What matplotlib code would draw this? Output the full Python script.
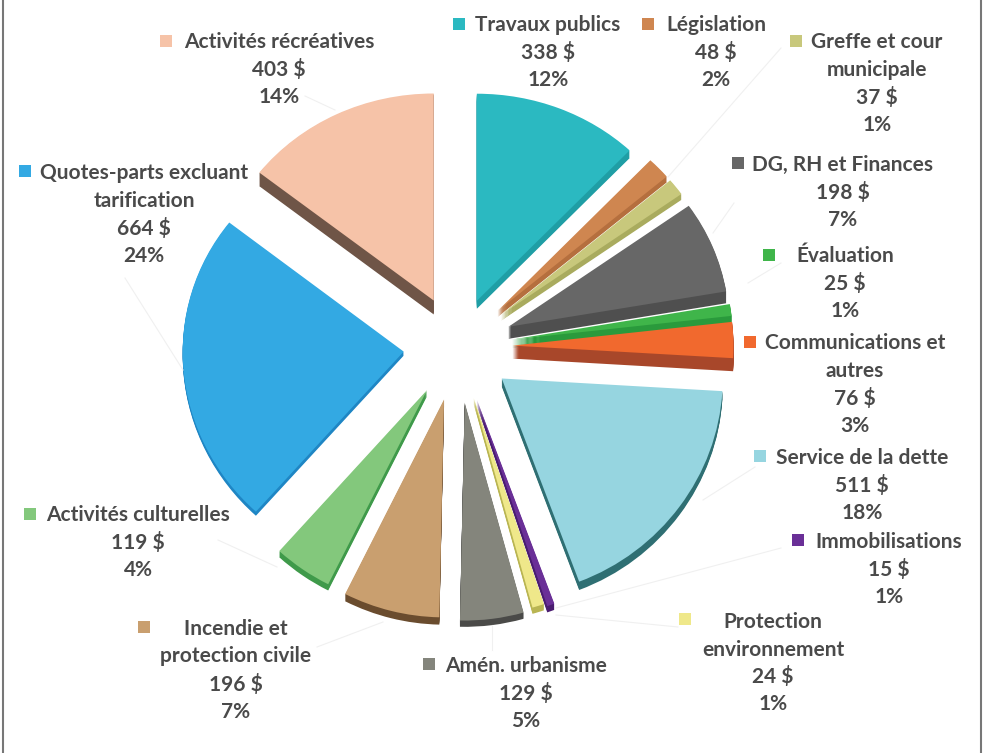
"""Repartition des depenses, pie with fake 3D depth"""
import matplotlib
matplotlib.use("Agg")
import matplotlib.pyplot as plt
import numpy as np

plt.rcParams['font.family'] = ['Lato', 'DejaVu Sans']

# DATA (clockwise from 12 o'clock)
names = ["Travaux publics", "Législation", "Greffe et cour\nmunicipale",
         "DG, RH et Finances", "Évaluation", "Communications et\nautres",
         "Service de la dette", "Immobilisations",
         "Protection\nenvironnement", "Amén. urbanisme",
         "Incendie et\nprotection civile", "Activités culturelles",
         "Quotes-parts excluant\ntarification", "Activités récréatives"]
values = [338, 48, 37, 198, 25, 76, 511, 15, 24, 129, 196, 119, 664, 403]
percents = [12, 2, 1, 7, 1, 3, 18, 1, 1, 5, 7, 4, 24, 14]

# STYLE
top_colors = ['#2bb9c1', '#cf8650', '#c8c87c', '#676767', '#3fb54a', '#f1692e',
              '#96d5e0', '#6a2f97', '#efe88a', '#84857c', '#c99f6f', '#83c87c',
              '#33a9e3', '#f6c3a8']
side_colors = ['#1f9ea5', '#b56f3e', '#a9ab5e', '#4f4f4f', '#2a9a3c', '#a8472a',
               '#2f6f73', '#4a1c70', '#b9b552', '#4a4a48', '#6a4c2e', '#3f9a4a',
               '#1f86c4', '#6f5547']
explode = [52, 55, 55, 55, 55, 55, 55, 58, 55, 58, 56, 54, 54, 54]
depth = [8, 6, 6, 12, 8, 13, 8, 6, 6, 6, 7, 6, 4, 14]

# LAYOUT in pixels: center x of the text, y of first line, legend square
label_x = [548, 716, 877, 843, 845, 855, 862, 889, 773, 526, 236, 138, 144, 279]
label_y = [25, 25, 42, 165, 256, 343, 458, 542, 622, 666, 629, 515, 173, 42]
square_x = [459, 648, 796, 738, 769, 750, 760, 798, 685, 429, 144, 30, 25, 166]
square_y = [24, 24, 41, 163, 255, 342, 456, 540, 619, 664, 627, 514, 171, 41]
leaders = [((305, 96), (335, 110)), ((125, 278), (183, 370)),
           ((781, 48), (668, 177)), ((734, 203), (713, 233)),
           ((781, 263), (748, 283)), ((755, 467), (703, 500)),
           ((781, 548), (556, 608)), ((678, 627), (556, 615)),
           ((492, 625), (492, 650)), ((383, 622), (317, 647)),
           ((218, 540), (277, 567))]

W, H = 985, 753
cx, cy = 457.5, 347.0
radius = 221
line_h = 27.5
# perspective of the tilted pie: the near (lower) half is stretched
tilt_b, tilt_a = 0.961, 7.56e-5


def tilt(y):
    return tilt_b * y - tilt_a * y * y


def untilt(u):
    disc = np.maximum(tilt_b ** 2 - 4 * tilt_a * np.asarray(u, dtype=float), 0)
    return (tilt_b - np.sqrt(disc)) / (2 * tilt_a)


fig = plt.figure(figsize=(W / 100, H / 100), dpi=100, facecolor='white')

over = fig.add_axes([0, 0, 1, 1], zorder=2)
over.set_xlim(0, W)
over.set_ylim(H, 0)
over.axis('off')
over.patch.set_alpha(0)

ax = fig.add_axes([0, 0, 1, 1], zorder=1)

pie_args = dict(startangle=90, counterclock=False, explode=explode,
                radius=radius, frame=True, wedgeprops=dict(linewidth=0))

# side walls: darker copies stepping down
for k in range(max(depth), 0, -1):
    wedges, _ = ax.pie(values, colors=side_colors, center=(0, -k / tilt_b),
                       **pie_args)
    for w, d in zip(wedges, depth):
        w.set_visible(k <= d)
ax.pie(values, colors=top_colors, center=(0, 0), **pie_args)

ax.set_aspect('auto')
ax.set_yscale('function', functions=(tilt, untilt))
ax.set_xlim(-cx, W - cx)
ax.set_ylim(float(untilt(cy - H)), float(untilt(cy)))
ax.axis('off')

for (a, b) in leaders:
    over.plot([a[0], b[0]], [a[1], b[1]], color='#f0f0f0', lw=0.8)

# labels
for i, name in enumerate(names):
    lines = name.split("\n") + ["%d $" % values[i], "%d%%" % percents[i]]
    for j, line in enumerate(lines):
        over.text(label_x[i], label_y[i] + j * line_h, line, ha='center',
                  va='center', fontsize=15, fontweight='bold', color='#4a4a4a')
over.scatter(square_x, square_y, marker='s', s=78, c=top_colors, linewidths=0)

# image border, sides only
over.plot([2.5, 2.5], [0, H], color='#777777', lw=1.5)
over.plot([981, 981], [0, H], color='#777777', lw=1.5)

plt.savefig("out.png", dpi=100, facecolor='white')
